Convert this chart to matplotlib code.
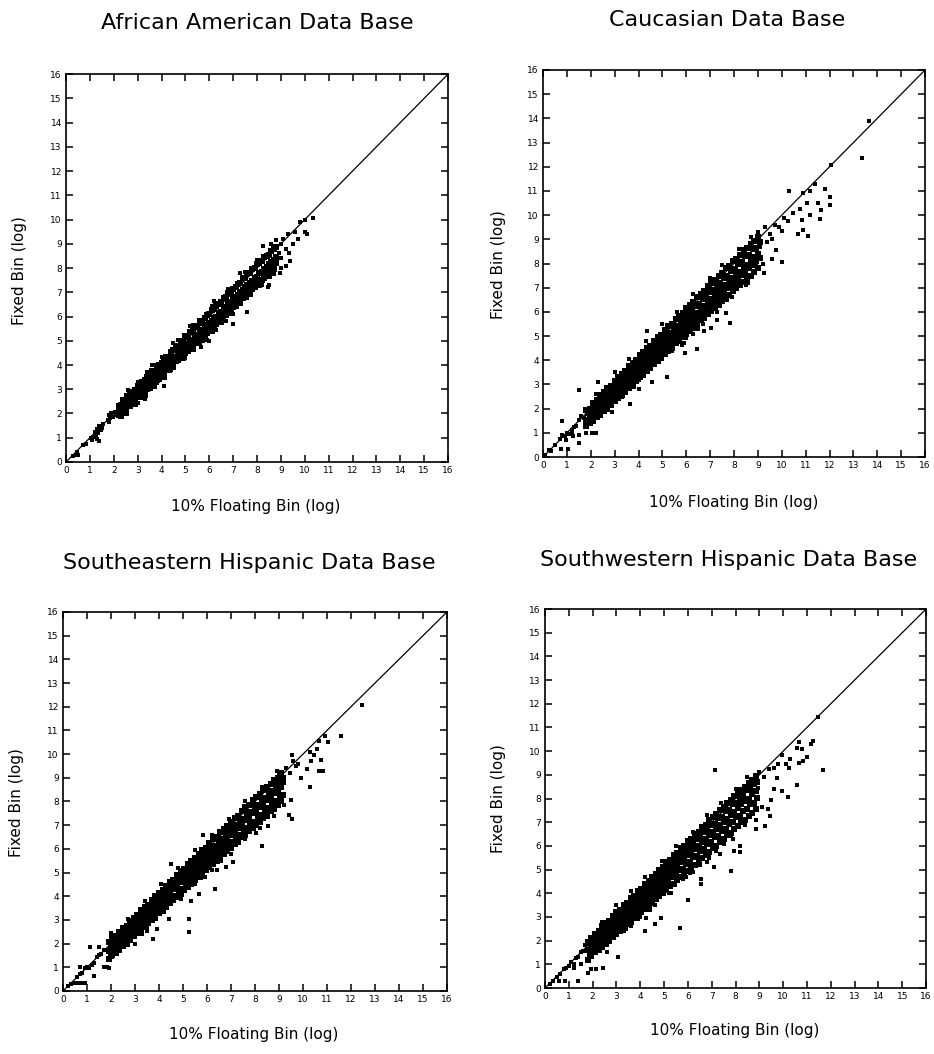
import matplotlib
matplotlib.use('Agg')
import matplotlib.pyplot as plt

# common range and ticks for the four panels
axis_limits = [0, 16]
tick_values = list(range(0, 17))

# ---- African American data base ----
aa_band_x = [2.2, 2.3, 2.4, 2.5, 2.6, 2.7, 2.8, 2.9,
             3.0, 3.1, 3.2, 3.3, 3.4, 3.5, 3.6, 3.7, 3.8, 3.9,
             4.0, 4.1, 4.2, 4.3, 4.4, 4.5, 4.6, 4.7, 4.8, 4.9,
             5.0, 5.1, 5.2, 5.3, 5.4, 5.5, 5.6, 5.7, 5.8, 5.9,
             6.0, 6.1, 6.2, 6.3, 6.4, 6.5, 6.6, 6.7, 6.8, 6.9,
             7.0, 7.1, 7.2, 7.3, 7.4, 7.5, 7.6, 7.7, 7.8, 7.9,
             8.0, 8.1, 8.2, 8.3, 8.4, 8.5, 8.6, 8.7, 8.8]
aa_band_upper = [2.3, 2.35, 2.55, 2.5, 2.7, 2.9, 2.75, 2.95,
                 3.15, 3.1, 3.3, 3.4, 3.5, 3.55, 3.75, 3.75, 3.95, 4.0,
                 4.1, 4.2, 4.35, 4.35, 4.55, 4.6, 4.8, 4.75, 4.95, 5.0,
                 5.2, 5.15, 5.35, 5.4, 5.55, 5.6, 5.8, 5.75, 5.95, 6.05,
                 6.1, 6.25, 6.3, 6.45, 6.5, 6.6, 6.75, 6.8, 6.95, 7.0,
                 7.15, 7.2, 7.35, 7.4, 7.6, 7.6, 7.8, 7.8, 7.95, 8.0,
                 8.15, 8.2, 8.3, 8.45, 8.5, 8.55, 8.7, 8.8, 8.85]
aa_band_mid = [2.05, 2.15, 2.25, 2.3, 2.45, 2.55, 2.65, 2.75,
               2.8, 2.95, 3.05, 3.1, 3.25, 3.3, 3.45, 3.5, 3.65, 3.7,
               3.8, 3.9, 4.0, 4.1, 4.2, 4.3, 4.35, 4.5, 4.55, 4.7,
               4.75, 4.85, 5.0, 5.05, 5.15, 5.25, 5.35, 5.45, 5.55, 5.65,
               5.75, 5.8, 5.95, 6.0, 6.15, 6.2, 6.35, 6.4, 6.55, 6.6,
               6.75, 6.8, 6.9, 7.0, 7.1, 7.2, 7.3, 7.4, 7.45, 7.6,
               7.65, 7.8, 7.85, 7.95, 8.05, 8.15, 8.25, 8.35, 8.45]
aa_band_lower = [1.95, 2.05, 2.0, 2.2, 2.4, 2.4, 2.5, 2.6,
                 2.7, 2.75, 2.85, 2.95, 3.0, 3.15, 3.2, 3.35, 3.4, 3.5,
                 3.65, 3.7, 3.8, 3.9, 4.0, 4.1, 4.15, 4.3, 4.35, 4.45,
                 4.5, 4.65, 4.7, 4.85, 4.9, 5.0, 5.1, 5.2, 5.25, 5.35,
                 5.5, 5.55, 5.65, 5.75, 5.85, 5.9, 6.05, 6.1, 6.2, 6.3,
                 6.4, 6.5, 6.55, 6.7, 6.75, 6.9, 6.95, 7.05, 7.15, 7.25,
                 7.35, 7.4, 7.5, 7.65, 7.7, 7.85, 7.95, 8.05, 8.2]
aa_edge_x = [2.3, 2.5, 2.7, 2.9, 3.1, 3.3, 3.5, 3.7, 3.9, 4.1, 4.3,
             4.5, 4.7, 4.9, 5.1, 5.3, 5.5, 5.7, 5.9, 6.1, 6.3, 6.5,
             6.7, 6.9, 7.1, 7.3, 7.5, 7.7, 7.9, 8.1, 8.3, 8.5, 8.7]
aa_edge_y = [1.9, 2.02, 2.3, 2.4, 2.68, 2.78, 3.05, 3.15, 3.44, 3.52, 3.8,
             3.9, 4.2, 4.28, 4.57, 4.65, 4.95, 5.02, 5.33, 5.4, 5.7, 5.78,
             6.08, 6.15, 6.45, 6.55, 6.84, 6.92, 7.22, 7.3, 7.6, 7.68, 7.96]
aa_low_x = [0.3, 0.4, 0.45, 0.5, 0.7, 0.85, 1.05, 1.1, 1.15, 1.2, 1.25, 1.3, 1.35, 1.4,
            1.45, 1.5, 1.55, 1.3, 1.4, 1.75, 1.8, 1.85, 1.9, 1.95, 1.8, 2.05, 2.1]
aa_low_y = [0.25, 0.3, 0.4, 0.3, 0.7, 0.75, 1.0, 0.9, 1.05, 1.25, 1.1, 1.35, 1.2, 1.5,
            1.3, 1.4, 1.55, 0.95, 0.85, 1.75, 1.95, 1.8, 2.0, 1.85, 1.65, 2.05, 1.95]
aa_near_x = [2.5, 3.4, 4.0, 4.7, 5.3, 6.1, 6.8, 7.5, 8.0, 8.6,
             3.0, 3.8, 4.4, 5.0, 5.6, 6.3, 7.0, 7.6, 8.2, 8.7, 6.7, 5.9]
aa_near_y = [2.75, 3.7, 4.35, 5.05, 5.65, 6.45, 7.15, 7.85, 8.35, 9.0,
             2.45, 3.25, 3.8, 4.3, 4.85, 5.45, 6.1, 6.75, 7.3, 7.75, 5.8, 5.05]
aa_out_x = [8.9, 9.0, 9.1, 9.0, 9.2, 9.3, 9.4, 9.5, 9.6, 9.7,
            9.2, 9.8, 10.0, 10.1, 10.35, 10.0, 9.0, 8.8, 8.25, 8.5,
            8.45, 7.6, 7.0, 6.6, 5.65, 4.1, 3.3, 2.9, 6.0, 5.2,
            4.5, 3.6, 3.0, 2.6, 7.3, 6.2, 9.35, 8.95]
aa_out_y = [8.6, 8.4, 9.2, 9.0, 8.8, 9.4, 8.3, 9.0, 9.5, 9.2,
            8.1, 9.9, 10.0, 9.4, 10.05, 9.5, 8.0, 9.15, 8.9, 7.3,
            7.2, 6.2, 5.7, 5.9, 4.75, 3.15, 2.6, 2.35, 5.0, 5.6,
            4.9, 4.0, 3.3, 2.95, 7.8, 6.65, 8.6, 7.8]

# ---- Caucasian data base ----
ca_band_x = [1.8, 1.95, 2.1, 2.25, 2.4, 2.55, 2.7, 2.85, 3.0, 3.15,
             3.3, 3.45, 3.6, 3.75, 3.9, 4.05, 4.2, 4.35, 4.5, 4.65,
             4.8, 4.95, 5.1, 5.25, 5.4, 5.55, 5.7, 5.85, 6.0, 6.15,
             6.3, 6.45, 6.6, 6.75, 6.9, 7.05, 7.2, 7.35, 7.5, 7.65,
             7.8, 7.95, 8.1, 8.25, 8.4, 8.55, 8.7, 8.85, 9.0]
ca_band_upper = [1.95, 2.0, 2.25, 2.35, 2.55, 2.7, 2.85, 2.95, 3.15, 3.3,
                 3.45, 3.55, 3.75, 3.9, 4.0, 4.2, 4.35, 4.5, 4.6, 4.8,
                 4.95, 5.05, 5.25, 5.4, 5.5, 5.7, 5.85, 5.95, 6.15, 6.3,
                 6.4, 6.6, 6.75, 6.85, 7.05, 7.2, 7.3, 7.5, 7.6, 7.8,
                 7.9, 8.1, 8.2, 8.35, 8.55, 8.65, 8.8, 8.95, 9.1]
ca_band_mid = [1.55, 1.65, 1.8, 1.95, 2.1, 2.2, 2.4, 2.5, 2.7, 2.8,
               2.95, 3.1, 3.25, 3.35, 3.55, 3.7, 3.85, 3.95, 4.15, 4.25,
               4.4, 4.55, 4.7, 4.85, 4.95, 5.15, 5.25, 5.4, 5.55, 5.7,
               5.85, 5.95, 6.15, 6.25, 6.4, 6.55, 6.7, 6.85, 6.95, 7.1,
               7.25, 7.4, 7.55, 7.65, 7.85, 7.95, 8.1, 8.25, 8.4]
ca_band_lower = [1.3, 1.4, 1.5, 1.65, 1.75, 1.9, 2.0, 2.15, 2.3, 2.45,
                 2.55, 2.7, 2.85, 2.95, 3.15, 3.3, 3.4, 3.55, 3.7, 3.85,
                 3.95, 4.1, 4.25, 4.4, 4.5, 4.7, 4.8, 4.95, 5.1, 5.2,
                 5.35, 5.5, 5.65, 5.75, 5.9, 6.05, 6.15, 6.3, 6.45, 6.6,
                 6.7, 6.85, 7.0, 7.1, 7.25, 7.4, 7.5, 7.65, 7.8]
ca_fill_x = [1.88, 2.02, 2.18, 2.32, 2.48, 2.62, 2.78, 2.92, 3.08, 3.22,
             3.38, 3.52, 3.68, 3.82, 3.98, 4.12, 4.28, 4.42, 4.58, 4.72,
             4.88, 5.02, 5.18, 5.32, 5.48, 5.62, 5.78, 5.92, 6.08, 6.22,
             6.38, 6.52, 6.68, 6.82, 6.98, 7.12, 7.28, 7.42, 7.58, 7.72,
             7.88, 8.02, 8.18, 8.32, 8.48, 8.62, 8.78, 8.92, 9.08]
ca_fill_a = [1.82, 1.9, 2.12, 2.2, 2.4, 2.5, 2.7, 2.78, 3.0, 3.08,
             3.3, 3.37, 3.58, 3.66, 3.88, 3.96, 4.17, 4.25, 4.47, 4.55,
             4.76, 4.84, 5.06, 5.13, 5.35, 5.43, 5.64, 5.72, 5.94, 6.02,
             6.23, 6.31, 6.53, 6.6, 6.82, 6.9, 7.11, 7.19, 7.41, 7.49,
             7.7, 7.78, 8.0, 8.07, 8.29, 8.37, 8.58, 8.66, 8.88]
ca_fill_b = [1.45, 1.55, 1.7, 1.86, 1.97, 2.15, 2.26, 2.43, 2.55, 2.72,
             2.82, 3.0, 3.12, 3.28, 3.4, 3.56, 3.67, 3.85, 3.96, 4.13,
             4.25, 4.41, 4.53, 4.7, 4.81, 4.98, 5.1, 5.26, 5.38, 5.55,
             5.66, 5.83, 5.95, 6.11, 6.23, 6.4, 6.51, 6.68, 6.8, 6.97,
             7.08, 7.25, 7.36, 7.53, 7.64, 7.82, 7.93, 8.1, 8.21]
ca_low_x = [0.1, 0.25, 0.35, 0.5, 0.7, 0.8, 0.9, 1.0, 1.1, 1.2, 1.3, 1.4, 1.5, 1.6,
            1.7, 0.95, 1.25]
ca_low_y = [0.1, 0.3, 0.25, 0.5, 0.75, 0.9, 0.85, 1.0, 0.95, 1.1, 1.25, 1.3, 1.55, 1.7,
            1.6, 0.7, 0.85]
ca_near_x = [2.2, 3.0, 3.6, 4.3, 5.0, 5.6, 6.3, 7.0, 7.5, 8.2, 8.7,
             2.6, 3.3, 4.0, 4.7, 5.4, 6.0, 6.7, 7.3, 7.9, 8.5, 5.8, 6.5]
ca_near_y = [2.6, 3.5, 4.05, 4.8, 5.5, 6.0, 6.75, 7.4, 7.95, 8.6, 9.1,
             1.9, 2.5, 3.2, 3.8, 4.4, 4.9, 5.5, 6.0, 6.6, 7.1, 4.65, 5.3]
ca_out_x = [13.65, 13.35, 12.08, 10.3, 10.9, 11.4, 11.2, 11.8, 12.0, 12.0,
            11.65, 11.6, 11.2, 11.05, 11.5, 10.75, 10.85, 10.9, 11.1, 10.7,
            10.45, 10.25, 10.0, 10.0, 9.75, 9.6, 9.25, 9.2, 8.9, 8.6,
            8.45, 7.85, 7.65, 7.3, 7.7, 7.05, 6.75, 6.45, 5.95, 5.9,
            6.3, 5.2, 4.55, 4.0, 3.65, 2.9, 2.4, 2.3, 1.5, 0.8,
            2.2, 2.05, 1.8, 1.5, 1.5, 1.2, 1.05, 0.75, 4.35,
            9.3, 9.5, 9.6, 9.4, 9.7, 9.9, 10.1, 9.1, 9.0, 8.8]
ca_out_y = [13.9, 12.35, 12.07, 11.0, 10.9, 11.3, 11.0, 11.1, 10.75, 10.4,
            10.2, 9.85, 10.0, 10.5, 10.5, 10.25, 9.8, 9.4, 9.15, 9.2,
            10.1, 9.75, 9.35, 8.05, 8.55, 8.2, 7.6, 8.0, 7.9, 7.2,
            7.6, 5.55, 5.95, 5.65, 6.5, 5.35, 5.2, 4.45, 4.3, 4.7,
            5.1, 3.3, 3.1, 2.8, 2.2, 1.85, 2.2, 3.1, 2.75, 1.5,
            1.0, 1.0, 1.0, 0.9, 0.6, 1.0, 0.35, 0.35, 5.2,
            9.5, 9.2, 9.0, 8.9, 9.6, 9.5, 9.9, 8.7, 9.3, 8.9]

# ---- Southeastern Hispanic data base ----
se_band_x = [1.9, 2.05, 2.2, 2.35, 2.5, 2.65, 2.8, 2.95, 3.1, 3.25,
             3.4, 3.55, 3.7, 3.85, 4.0, 4.15, 4.3, 4.45, 4.6, 4.75,
             4.9, 5.05, 5.2, 5.35, 5.5, 5.65, 5.8, 5.95, 6.1, 6.25,
             6.4, 6.55, 6.7, 6.85, 7.0, 7.15, 7.3, 7.45, 7.6, 7.75,
             7.9, 8.05, 8.2, 8.35, 8.5, 8.65, 8.8, 8.95, 9.1]
se_band_upper = [2.05, 2.2, 2.3, 2.5, 2.65, 2.75, 2.95, 3.1, 3.2, 3.4,
                 3.55, 3.65, 3.85, 4.0, 4.15, 4.25, 4.45, 4.6, 4.7, 4.9,
                 5.05, 5.15, 5.35, 5.5, 5.6, 5.8, 5.95, 6.05, 6.25, 6.4,
                 6.5, 6.7, 6.85, 6.95, 7.15, 7.3, 7.4, 7.6, 7.75, 7.85,
                 8.05, 8.2, 8.3, 8.5, 8.6, 8.75, 8.9, 9.0, 9.2]
se_band_mid = [1.7, 1.8, 1.95, 2.1, 2.2, 2.4, 2.5, 2.65, 2.8, 2.95,
               3.1, 3.25, 3.35, 3.55, 3.7, 3.85, 3.95, 4.15, 4.3, 4.4,
               4.6, 4.7, 4.85, 5.0, 5.15, 5.3, 5.4, 5.6, 5.7, 5.9,
               6.0, 6.15, 6.3, 6.45, 6.6, 6.75, 6.9, 7.05, 7.2, 7.3,
               7.5, 7.6, 7.75, 7.9, 8.05, 8.2, 8.35, 8.5, 8.6]
se_band_lower = [1.35, 1.5, 1.6, 1.75, 1.9, 2.0, 2.15, 2.3, 2.45, 2.55,
                 2.7, 2.85, 3.0, 3.1, 3.3, 3.4, 3.55, 3.7, 3.85, 3.95,
                 4.1, 4.25, 4.4, 4.5, 4.7, 4.8, 4.95, 5.1, 5.25, 5.35,
                 5.5, 5.65, 5.8, 5.9, 6.05, 6.2, 6.3, 6.5, 6.6, 6.75,
                 6.9, 7.0, 7.15, 7.3, 7.4, 7.6, 7.7, 7.85, 8.0]
se_fill_x = [1.98, 2.12, 2.28, 2.42, 2.58, 2.72, 2.88, 3.02, 3.18, 3.32,
             3.48, 3.62, 3.78, 3.92, 4.08, 4.22, 4.38, 4.52, 4.68, 4.82,
             4.98, 5.12, 5.28, 5.42, 5.58, 5.72, 5.88, 6.02, 6.18, 6.32,
             6.48, 6.62, 6.78, 6.92, 7.08, 7.22, 7.38, 7.52, 7.68, 7.82,
             7.98, 8.12, 8.28, 8.42, 8.58, 8.72, 8.88, 9.02, 9.18]
se_fill_a = [1.93, 2.0, 2.2, 2.28, 2.52, 2.58, 2.8, 2.87, 3.11, 3.17,
             3.4, 3.46, 3.69, 3.75, 3.99, 4.05, 4.28, 4.34, 4.58, 4.63,
             4.87, 4.93, 5.16, 5.22, 5.46, 5.52, 5.75, 5.81, 6.05, 6.1,
             6.34, 6.4, 6.63, 6.69, 6.93, 6.99, 7.22, 7.28, 7.52, 7.57,
             7.81, 7.87, 8.1, 8.16, 8.4, 8.46, 8.69, 8.75, 8.99]
se_fill_b = [1.48, 1.68, 1.76, 1.97, 2.05, 2.25, 2.33, 2.54, 2.62, 2.83,
             2.9, 3.1, 3.18, 3.39, 3.47, 3.68, 3.75, 3.96, 4.03, 4.24,
             4.32, 4.52, 4.6, 4.81, 4.88, 5.1, 5.17, 5.38, 5.45, 5.66,
             5.73, 5.95, 6.02, 6.23, 6.3, 6.51, 6.58, 6.8, 6.87, 7.08,
             7.15, 7.36, 7.43, 7.65, 7.72, 7.93, 8.0, 8.21, 8.29]
se_low_x = [0.2, 0.35, 0.45, 0.6, 0.7, 0.8, 0.9, 1.0, 1.1, 1.2,
            1.3, 1.4, 1.5, 1.6, 1.7, 1.12, 0.7, 0.6, 0.75, 0.9,
            1.3, 1.7, 1.85, 1.9]
se_low_y = [0.2, 0.3, 0.35, 0.6, 0.7, 0.75, 0.95, 1.0, 0.95, 1.1,
            1.2, 1.45, 1.5, 1.55, 1.75, 1.87, 1.0, 0.35, 0.35, 0.35,
            0.65, 1.0, 1.0, 0.95]
se_near_x = [2.0, 2.7, 3.4, 4.1, 4.8, 5.5, 6.2, 6.9, 7.6, 8.3,
             2.7, 3.5, 4.2, 4.9, 5.5, 6.2, 7.0, 7.6, 8.2, 8.8, 6.6, 5.9]
se_near_y = [2.4, 3.05, 3.8, 4.5, 5.2, 5.95, 6.6, 7.25, 8.0, 8.6,
             2.0, 2.7, 3.35, 3.9, 4.5, 5.1, 5.8, 6.4, 6.9, 7.4, 5.5, 4.8]
se_out_x = [12.45, 11.57, 11.05, 10.9, 10.65, 10.6, 10.45, 10.75, 10.85, 10.65,
            10.3, 10.35, 10.15, 10.3, 9.9, 9.7, 9.53, 9.53, 9.4, 9.2,
            9.5, 9.1, 8.55, 8.3, 8.05, 7.75, 7.1, 6.8, 6.4, 6.35,
            5.75, 5.65, 5.25, 5.25, 5.35, 4.4, 4.05, 3.9, 3.75, 3.5,
            3.0, 3.3, 9.3, 9.45, 9.6, 9.0, 8.8, 9.8, 9.2, 8.9,
            5.85, 4.5, 2.0, 1.5]
se_out_y = [12.07, 10.76, 10.5, 10.75, 10.55, 10.2, 9.95, 9.75, 9.3, 9.3,
            10.1, 9.7, 9.35, 8.6, 9.0, 9.5, 9.96, 7.26, 7.42, 7.85,
            8.05, 8.3, 6.95, 6.1, 6.65, 7.1, 5.45, 5.25, 5.1, 4.3,
            4.75, 4.1, 3.05, 2.5, 3.8, 3.05, 3.7, 2.6, 2.2, 2.55,
            2.0, 2.4, 9.4, 9.2, 9.7, 9.1, 8.5, 9.6, 8.8, 9.3,
            6.6, 5.35, 2.45, 1.85]

# ---- Southwestern Hispanic data base ----
sw_band_x = [1.8, 1.95, 2.1, 2.25, 2.4, 2.55, 2.7, 2.85, 3.0, 3.15,
             3.3, 3.45, 3.6, 3.75, 3.9, 4.05, 4.2, 4.35, 4.5, 4.65,
             4.8, 4.95, 5.1, 5.25, 5.4, 5.55, 5.7, 5.85, 6.0, 6.15,
             6.3, 6.45, 6.6, 6.75, 6.9, 7.05, 7.2, 7.35, 7.5, 7.65,
             7.8, 7.95, 8.1, 8.25, 8.4, 8.55, 8.7, 8.85]
sw_band_upper = [1.95, 2.1, 2.3, 2.4, 2.6, 2.75, 2.85, 3.05, 3.2, 3.3,
                 3.5, 3.6, 3.8, 3.9, 4.1, 4.2, 4.4, 4.5, 4.7, 4.8,
                 5.0, 5.1, 5.3, 5.4, 5.6, 5.7, 5.9, 6.0, 6.2, 6.3,
                 6.5, 6.6, 6.8, 6.9, 7.1, 7.2, 7.35, 7.5, 7.65, 7.8,
                 7.95, 8.1, 8.25, 8.35, 8.5, 8.65, 8.8, 8.95]
sw_band_mid = [1.6, 1.7, 1.9, 2.0, 2.15, 2.3, 2.45, 2.55, 2.75, 2.85,
               3.0, 3.15, 3.3, 3.4, 3.6, 3.7, 3.9, 4.0, 4.15, 4.3,
               4.45, 4.6, 4.7, 4.9, 5.0, 5.15, 5.3, 5.45, 5.6, 5.75,
               5.85, 6.0, 6.15, 6.3, 6.45, 6.6, 6.7, 6.9, 7.0, 7.15,
               7.3, 7.45, 7.6, 7.75, 7.9, 8.0, 8.2, 8.3]
sw_band_lower = [1.2, 1.35, 1.5, 1.6, 1.75, 1.9, 2.0, 2.15, 2.3, 2.4,
                 2.55, 2.7, 2.8, 2.95, 3.1, 3.2, 3.35, 3.5, 3.6, 3.75,
                 3.9, 4.0, 4.15, 4.3, 4.4, 4.55, 4.7, 4.8, 4.95, 5.1,
                 5.2, 5.35, 5.5, 5.6, 5.75, 5.9, 6.0, 6.15, 6.3, 6.45,
                 6.55, 6.7, 6.85, 7.0, 7.1, 7.25, 7.4, 7.55]
sw_fill_x = [1.88, 2.02, 2.18, 2.32, 2.48, 2.62, 2.78, 2.92, 3.08, 3.22,
             3.38, 3.52, 3.68, 3.82, 3.98, 4.12, 4.28, 4.42, 4.58, 4.72,
             4.88, 5.02, 5.18, 5.32, 5.48, 5.62, 5.78, 5.92, 6.08, 6.22,
             6.38, 6.52, 6.68, 6.82, 6.98, 7.12, 7.28, 7.42, 7.58, 7.72,
             7.88, 8.02, 8.18, 8.32, 8.48, 8.62, 8.78, 8.92]
sw_fill_a = [1.9, 1.95, 2.19, 2.24, 2.48, 2.54, 2.77, 2.83, 3.07, 3.12,
             3.36, 3.42, 3.65, 3.71, 3.94, 4.0, 4.24, 4.29, 4.53, 4.59,
             4.82, 4.88, 5.12, 5.17, 5.41, 5.47, 5.7, 5.76, 5.99, 6.05,
             6.29, 6.34, 6.58, 6.64, 6.87, 6.93, 7.17, 7.22, 7.46, 7.51,
             7.75, 7.81, 8.04, 8.1, 8.34, 8.39, 8.63, 8.69]
sw_fill_b = [1.41, 1.62, 1.69, 1.9, 1.97, 2.18, 2.25, 2.46, 2.52, 2.73,
             2.8, 3.01, 3.08, 3.29, 3.36, 3.57, 3.64, 3.85, 3.92, 4.13,
             4.2, 4.41, 4.48, 4.69, 4.76, 4.97, 5.04, 5.25, 5.31, 5.52,
             5.59, 5.8, 5.87, 6.08, 6.15, 6.36, 6.43, 6.64, 6.71, 6.92,
             6.99, 7.2, 7.27, 7.48, 7.55, 7.76, 7.83, 8.04]
sw_low_x = [0.2, 0.35, 0.5, 0.65, 0.8, 0.9, 1.0, 1.1, 1.2, 1.3,
            1.4, 1.5, 1.6, 1.7, 1.2, 1.5, 1.75]
sw_low_y = [0.15, 0.3, 0.45, 0.6, 0.8, 0.85, 0.95, 1.1, 1.0, 1.25,
            1.3, 1.5, 1.55, 1.8, 0.85, 1.0, 1.85]
sw_near_x = [2.4, 3.0, 3.6, 4.2, 4.9, 5.5, 6.2, 6.8, 7.4, 8.0, 8.5,
             2.6, 3.3, 4.0, 4.6, 5.2, 5.9, 6.5, 7.2, 7.8, 8.4, 6.1, 6.9]
sw_near_y = [2.8, 3.5, 4.1, 4.7, 5.35, 6.0, 6.6, 7.3, 7.8, 8.4, 8.9,
             1.8, 2.4, 3.0, 3.5, 4.0, 4.7, 5.2, 5.8, 6.4, 6.9, 4.85, 5.5]
sw_out_x = [11.48, 11.67, 11.27, 11.17, 10.65, 10.6, 10.8, 11.0, 10.85, 10.65,
            10.3, 10.25, 9.95, 9.8, 10.1, 10.6, 10.2, 9.95, 9.75, 9.6,
            9.5, 9.35, 9.45, 9.25, 8.85, 8.85, 9.1, 8.95, 8.2, 8.2,
            7.95, 7.8, 7.35, 7.1, 6.8, 6.55, 6.55, 6.0, 5.65, 4.85,
            4.6, 4.2, 4.25, 3.6, 3.05, 2.6, 2.45, 2.15, 1.95, 1.8,
            1.4, 0.85, 0.6, 7.15, 9.0, 9.2, 9.4, 8.7, 9.6,
            5.3, 5.8, 6.2, 6.9, 7.5, 7.9, 8.4, 4.4, 3.9, 3.4]
sw_out_y = [11.45, 9.2, 10.43, 10.3, 10.4, 10.15, 10.1, 9.75, 9.6, 9.5,
            9.65, 9.3, 9.85, 9.45, 9.45, 8.55, 8.05, 8.3, 8.85, 8.4,
            7.95, 7.55, 7.25, 6.85, 6.7, 7.1, 7.65, 8.45, 6.0, 5.75,
            5.8, 4.95, 5.65, 5.1, 5.3, 4.6, 4.4, 3.7, 2.55, 2.95,
            2.7, 2.4, 2.95, 2.6, 1.3, 1.5, 0.85, 0.8, 0.8, 0.65,
            0.3, 0.3, 0.3, 9.2, 9.1, 8.9, 9.25, 8.6, 9.3,
            4.0, 4.6, 4.9, 5.6, 6.1, 6.3, 6.9, 3.3, 2.9, 2.5]


def dibujar_panel(ax, tiras, sueltos):
    # dense band of points along the diagonal
    for tx, ty in tiras:
        ax.plot(tx, ty, ls='none', marker='s', ms=4.3, mew=0, color='black')
    # loose points around the band and far from it
    for sx, sy in sueltos:
        ax.plot(sx, sy, ls='none', marker='s', ms=2.8, mew=0, color='black')
    # identity line
    ax.plot(axis_limits, axis_limits, color='black', lw=0.9)
    ax.set_xlim(axis_limits)
    ax.set_ylim(axis_limits)
    ax.set_xticks(tick_values)
    ax.set_yticks(tick_values)
    ax.tick_params(direction='in', top=True, right=True, length=5, width=1.1,
                   labelsize=6.5, pad=3)
    for spine in ax.spines.values():
        spine.set_linewidth(1.2)


fig = plt.figure(figsize=(9.34, 10.54), dpi=100)

paneles = [
    ([0.0707, 0.5617, 0.409, 0.368], 'African American Data Base',
     [(aa_band_x, aa_band_upper), (aa_band_x, aa_band_mid),
      (aa_band_x, aa_band_lower), (aa_edge_x, aa_edge_y)],
     [(aa_low_x, aa_low_y), (aa_near_x, aa_near_y), (aa_out_x, aa_out_y)],
     (257, 23), (256, 506), (20, 271)),
    ([0.5814, 0.5664, 0.409, 0.3672], 'Caucasian Data Base',
     [(ca_band_x, ca_band_upper), (ca_band_x, ca_band_mid),
      (ca_band_x, ca_band_lower), (ca_fill_x, ca_fill_a), (ca_fill_x, ca_fill_b)],
     [(ca_low_x, ca_low_y), (ca_near_x, ca_near_y), (ca_out_x, ca_out_y)],
     (727, 20), (734, 502), (498, 265)),
    ([0.0675, 0.0598, 0.4111, 0.3596], 'Southeastern Hispanic Data Base',
     [(se_band_x, se_band_upper), (se_band_x, se_band_mid),
      (se_band_x, se_band_lower), (se_fill_x, se_fill_a), (se_fill_x, se_fill_b)],
     [(se_low_x, se_low_y), (se_near_x, se_near_y), (se_out_x, se_out_y)],
     (249, 563), (254, 1035), (17, 803)),
    ([0.5835, 0.0626, 0.408, 0.3596], 'Southwestern Hispanic Data Base',
     [(sw_band_x, sw_band_upper), (sw_band_x, sw_band_mid),
      (sw_band_x, sw_band_lower), (sw_fill_x, sw_fill_a), (sw_fill_x, sw_fill_b)],
     [(sw_low_x, sw_low_y), (sw_near_x, sw_near_y), (sw_out_x, sw_out_y)],
     (729, 560), (735, 1030), (498, 799)),
]

W, H = 934.0, 1054.0
for rect, titulo, tiras, sueltos, pos_t, pos_x, pos_y in paneles:
    ax = fig.add_axes(rect)
    dibujar_panel(ax, tiras, sueltos)
    fig.text(pos_t[0] / W, 1 - pos_t[1] / H, titulo, ha='center', va='center',
             fontsize=16)
    fig.text(pos_x[0] / W, 1 - pos_x[1] / H, '10% Floating Bin (log)',
             ha='center', va='center', fontsize=11)
    fig.text(pos_y[0] / W, 1 - pos_y[1] / H, 'Fixed Bin (log)', ha='center',
             va='center', rotation=90, fontsize=11)

fig.savefig('out.png', dpi=100, facecolor='white')
